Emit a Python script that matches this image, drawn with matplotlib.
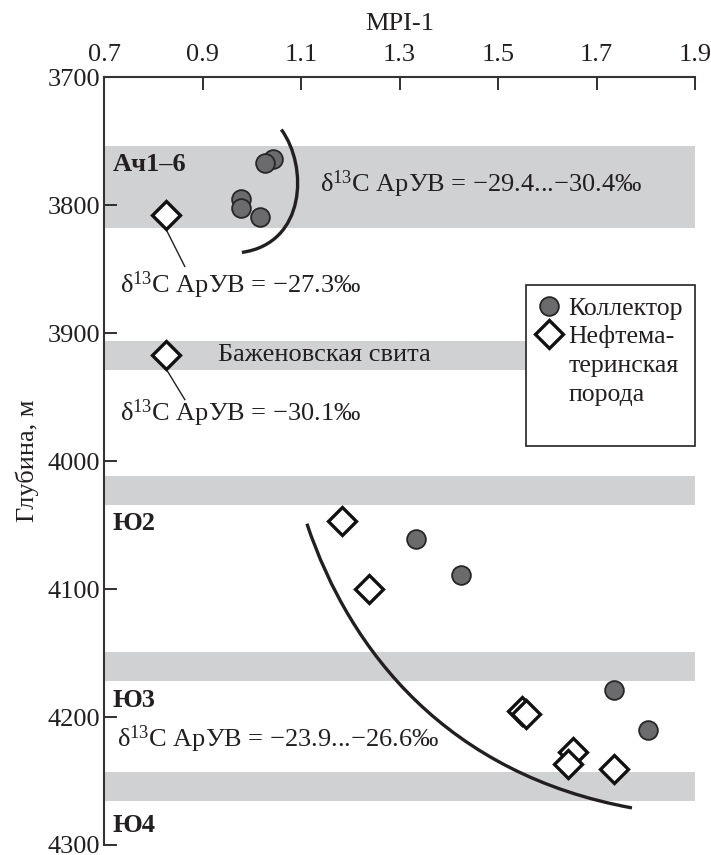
import numpy as np
import matplotlib
matplotlib.use("Agg")
import matplotlib.pyplot as plt
from matplotlib.lines import Line2D
from matplotlib.path import Path
from matplotlib.patches import PathPatch

plt.rcParams['font.family'] = ['Liberation Serif', 'DejaVu Serif']
plt.rcParams['mathtext.fontset'] = 'custom'
plt.rcParams['mathtext.rm'] = 'Liberation Serif'
plt.rcParams['mathtext.it'] = 'Liberation Serif:italic'
plt.rcParams['mathtext.bf'] = 'Liberation Serif:bold'

# Коллектор (circles)
coll_mpi = [1.043, 1.027, 0.978, 0.978, 1.017, 1.334, 1.425, 1.736, 1.805]
coll_depth = [3764, 3767, 3795, 3802, 3809, 4061, 4089, 4179, 4210]

# Нефтематеринская порода (diamonds)
src_mpi = [0.826, 0.826, 1.183, 1.238, 1.548, 1.557, 1.653, 1.643, 1.736]
src_depth = [3808, 3917, 4047, 4100, 4195, 4198, 4227, 4237, 4241]

# hand-drawn trend curves (Bezier control points: start, c1, c2, end)
upper_x = [1.060, 1.115, 1.110, 0.980]
upper_y = [3741, 3770, 3830, 3837]
lower_x = [1.112, 1.200, 1.400, 1.772]
lower_y = [4049, 4150, 4245, 4271]

# horizons (top, bottom, right edge)
bands = [(3754, 3818, 1.9), (3906, 3929, 1.56), (4012, 4034, 1.9),
         (4149, 4172, 1.9), (4243, 4266, 1.9)]

ink = '#231f20'
fig = plt.figure(figsize=(7.11, 8.55), dpi=100)
ax = fig.add_axes([0.1463, 0.0117, 0.8312, 0.8982])

for top, bot, right in bands:
    ax.fill_between([0.7, right], top, bot, color='#d0d1d3', lw=0, zorder=0)

codes = [Path.MOVETO, Path.CURVE4, Path.CURVE4, Path.CURVE4]
for cx, cy in [(upper_x, upper_y), (lower_x, lower_y)]:
    p = Path(np.column_stack([cx, cy]), codes)
    ax.add_patch(PathPatch(p, fill=False, ec=ink, lw=2.4, zorder=2, capstyle='butt'))

ax.plot(coll_mpi, coll_depth, 'o', ms=13.5, mfc='#6b6b6d', mec='#262626',
        mew=1.3, ls='none', zorder=3)
ax.plot(src_mpi, src_depth, 'D', ms=14, mfc='white', mec='#111111',
        mew=2.4, ls='none', zorder=4)

# leader lines
ax.plot([0.826, 0.864], [3819, 3848], color=ink, lw=1, zorder=1)
ax.plot([0.826, 0.864], [3928, 3952], color=ink, lw=1, zorder=1)

fs = 19
d13 = 'δ$^{\\mathregular{13}}$C АрУВ = '
ax.text(0.732, 3863, d13 + '−27.3‰', fontsize=fs, va='center', color=ink)
ax.text(0.732, 3963, d13 + '−30.1‰', fontsize=fs, va='center', color=ink)
ax.text(1.139, 3784, d13 + '−29.4...−30.4‰', fontsize=fs, va='center', color=ink)
ax.text(0.726, 4217, d13 + '−23.9...−26.6‰', fontsize=fs, va='center', color=ink)
ax.text(0.931, 3917, 'Баженовская свита', fontsize=fs, va='center', color=ink)

for lbl, d in [('Ач1–6', 3768), ('Ю2', 4049), ('Ю3', 4187), ('Ю4', 4285)]:
    ax.text(0.718, d, lbl, fontsize=fs, fontweight='bold', va='center', color=ink)

h1 = Line2D([], [], marker='o', ms=13.5, mfc='#6b6b6d', mec='#262626', mew=1.3, ls='none')
h2 = Line2D([], [], marker='D', ms=14, mfc='white', mec='#111111', mew=2.4, ls='none')
h3 = Line2D([], [], ls='none')
leg = ax.legend([h1, h2, h3, h3, h3], ['Коллектор', 'Нефтема-', 'теринская', 'порода', ' '],
                loc='upper left', bbox_to_anchor=(0.714, 0.729, 0.286, 0.0),
                mode='expand', frameon=True, fancybox=False, fontsize=18.5,
                handletextpad=0.3, labelspacing=0.22, borderpad=0.45,
                handlelength=0.9, borderaxespad=0, framealpha=1)
leg.get_frame().set_edgecolor('#222222')
leg.get_frame().set_linewidth(1.2)
for t in leg.get_texts():
    t.set_color(ink)

ax.set_xlim(0.7, 1.9)
ax.set_ylim(4300, 3700)
ax.set_xticks([0.7, 0.9, 1.1, 1.3, 1.5, 1.7, 1.9])
ax.set_yticks([3700, 3800, 3900, 4000, 4100, 4200, 4300])
ax.xaxis.tick_top()
ax.xaxis.set_label_position('top')
ax.set_xlabel('MPI-1', fontsize=fs, labelpad=10, color=ink)
ax.set_ylabel('Глубина, м', fontsize=fs, labelpad=6, color=ink)
ax.tick_params(direction='in', length=9, width=1.3, labelsize=fs, colors=ink, pad=3)
ax.tick_params(axis='x', pad=8)
ax.spines['right'].set_visible(False)
ax.spines['bottom'].set_visible(False)
for s in ['top', 'left']:
    ax.spines[s].set_linewidth(1.5)
    ax.spines[s].set_color('#333333')

fig.savefig('out.png', dpi=100)
